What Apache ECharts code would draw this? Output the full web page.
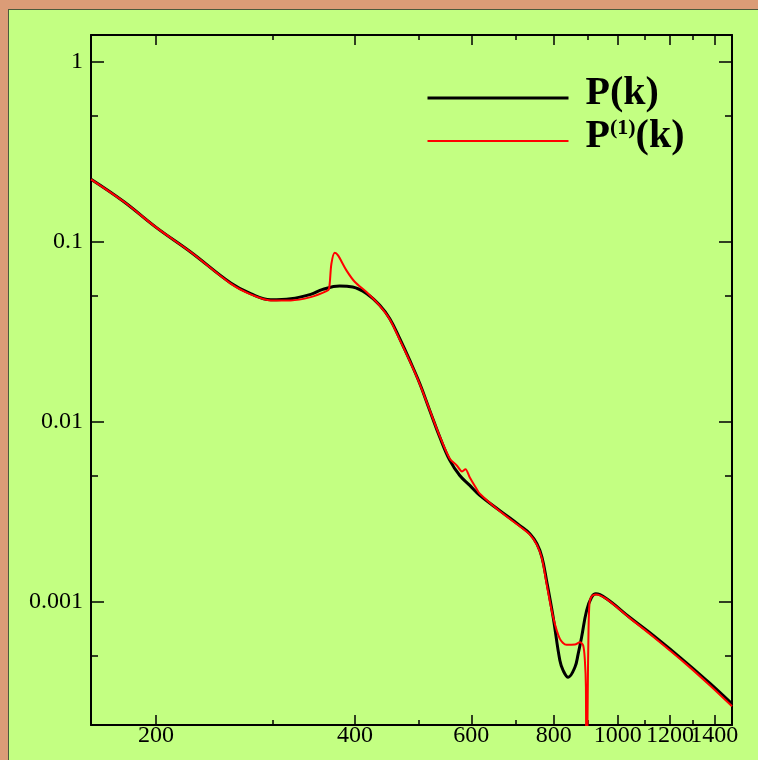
<!DOCTYPE html>
<html>
<head>
<meta charset="utf-8">
<title>P(k)</title>
<script src="https://cdn.jsdelivr.net/npm/echarts@6/dist/echarts.min.js"></script>
<style>
  html, body { margin: 0; padding: 0; }
  body { width: 758px; height: 760px; background: #db9c77; position: relative; overflow: hidden; }
  #panel { position: absolute; left: 8px; top: 9px; right: 0; bottom: 0; background: #c3ff82;
           border-left: 1px solid #4b5a3c; border-top: 1px solid #4b5a3c; }
  #chart { position: absolute; left: 0; top: 0; width: 758px; height: 760px; }
</style>
</head>
<body>
<div id="panel"></div>
<div id="chart"></div>
<script>
// Full spectrum P(k)
const kFull = [159.4, 178.6, 200, 225.6, 259.4, 278.1, 298.2, 319.8, 342.8, 357.5, 379.3, 396.9,
  416.9, 436.2, 451.7, 467.7, 484.3, 501.4, 519.2, 537.7, 556.8, 576.5, 597, 618.2, 662.9,
  710.9, 736.1, 754.3, 767.6, 780.2, 798.3, 817.2, 826.7, 841.2, 861.1, 871, 881.4, 897,
  912.7, 926.5, 961.8, 1043, 1131.6, 1271.5, 1379, 1489];
const pFull = [0.222, 0.167, 0.120, 0.0876, 0.0589, 0.0514, 0.0476, 0.0482, 0.0510, 0.0543, 0.0567, 0.0560,
  0.0514, 0.0443, 0.0373, 0.0289, 0.0219, 0.0163, 0.01156, 0.00821, 0.00610, 0.00503, 0.00443, 0.00390, 0.00321,
  0.00265, 0.00239, 0.00210, 0.00177, 0.00131, 0.000821, 0.000472, 0.000415, 0.000381, 0.000433, 0.000514, 0.000636, 0.000895,
  0.001061, 0.001107, 0.001039, 0.000818, 0.000650, 0.000457, 0.000352, 0.000271];

// First-order approximation P^(1)(k)
const kFirst = [159.4, 178.6, 200, 225.6, 259.4, 278.1, 298.2, 319.8, 342.8, 362.2, 365.5, 368.5,
  372.8, 377.1, 388.3, 400, 416.4, 436.2, 451.7, 467.7, 484.3, 501.4, 519.2, 537.7, 556.8,
  570.5, 581, 588, 597, 611.1, 618.2, 662.9, 710.9, 736.1, 754.3, 767.6, 780.2, 798.3,
  817.2, 836.5, 861.1, 876.2, 886.4, 891.6, 894.8, 896.5, 898.5, 900.5, 903, 906, 911, 918,
  926.5, 961.8, 1043, 1131.6, 1271.5, 1379, 1489];
const pFirst = [0.222, 0.167, 0.120, 0.0876, 0.0585, 0.0510, 0.0472, 0.0472, 0.0492, 0.0531, 0.0548, 0.0754,
  0.0869, 0.0839, 0.0693, 0.0597, 0.0525, 0.0440, 0.0370, 0.0285, 0.0217, 0.0162, 0.01160, 0.00830, 0.00623,
  0.00572, 0.00530, 0.00545, 0.00490, 0.00424, 0.00398, 0.00318, 0.00262, 0.00236, 0.00207, 0.00174, 0.00126, 0.000821,
  0.000623, 0.000577, 0.000579, 0.000597, 0.000572, 0.000472, 0.000335, 0.00005, 0.00005, 0.0003, 0.0007, 0.00098, 0.00106, 0.00109,
  0.001098, 0.001035, 0.000812, 0.000640, 0.000448, 0.000343, 0.000263];

const seriesNames = ['P(k)', 'P(1)(k)'];
const xMajorTicks = [200, 400, 600, 800, 1000, 1200, 1400];
const xMinorTicks = [300, 500, 700, 900, 1100, 1300];
// the tightly packed labels are split over two coincident axes so none gets culled
const xLabelsA = [200, 400, 600, 800, 1000, 1400];
const xLabelsB = [1200];
const yMajorTicks = [0.001, 0.01, 0.1, 1];
const yMinorTicks = [0.0005, 0.005, 0.05, 0.5];

const X_MIN = 159.4, X_MAX = 1489;
const Y_MIN = 0.000207, Y_MAX = 1.405;
const SERIF = "'Liberation Serif', 'Times New Roman', serif";

const pairs = (xs, ys) => xs.map((x, i) => [x, ys[i]]);
const tickLabel = (list) => (v) => {
  const t = list.find(t => Math.abs(t - v) / t < 1e-6);
  return t === undefined ? '' : String(t);
};

function makeAxis(kind, position, ticks, len, showLine, labels) {
  const isX = kind === 'x';
  return {
    type: 'log',
    logBase: 10,
    position: position,
    min: isX ? X_MIN : Y_MIN,
    max: isX ? X_MAX : Y_MAX,
    splitLine: { show: false },
    minorTick: { show: false },
    minorSplitLine: { show: false },
    axisLine: { show: showLine, onZero: false, lineStyle: { color: '#000', width: 2 } },
    axisTick: { show: true, inside: true, length: len, customValues: ticks,
                lineStyle: { color: '#000', width: 1.5 } },
    axisLabel: labels ? {
      show: true,
      customValues: labels,
      interval: 0,
      hideOverlap: false,
      showMinLabel: true,
      showMaxLabel: true,
      margin: isX ? -1 : 8,
      color: '#000',
      fontFamily: SERIF,
      fontSize: 24,
      formatter: tickLabel(labels)
    } : { show: false }
  };
}

const chart = echarts.init(document.getElementById('chart'), null, { renderer: 'canvas' });
chart.setOption({
  animation: false,
  backgroundColor: 'transparent',
  textStyle: { fontFamily: SERIF },
  grid: { left: 91, top: 35, right: 26, bottom: 35, containLabel: false, outerBoundsMode: 'none' },
  legend: {
    orient: 'vertical',
    left: 426,
    top: 74,
    padding: 0,
    itemGap: -5,
    itemWidth: 141,
    itemHeight: 14,
    data: [
      { name: seriesNames[0], lineStyle: { width: 3 } },
      { name: seriesNames[1], lineStyle: { width: 2 } }
    ],
    itemStyle: { opacity: 0 },
    lineStyle: { opacity: 1 },
    formatter: (name) => name === seriesNames[0]
      ? '{pad|}{m|P(k)}'
      : '{pad|}{m|P}{s|(1)}{m|(k)}',
    textStyle: {
      color: '#000',
      rich: {
        pad: { width: 12, lineHeight: 48 },
        m: { fontFamily: SERIF, fontWeight: 'bold', fontSize: 40, color: '#000',
             lineHeight: 40, padding: [0, 0, 8, 0] },
        s: { fontFamily: SERIF, fontWeight: 'bold', fontSize: 22, color: '#000',
             lineHeight: 24, verticalAlign: 'top' }
      }
    }
  },
  xAxis: [
    makeAxis('x', 'bottom', xMajorTicks, 10, true, xLabelsA),
    makeAxis('x', 'bottom', xMinorTicks, 5, false, xLabelsB),
    makeAxis('x', 'top', xMajorTicks, 10, true, null),
    makeAxis('x', 'top', xMinorTicks, 5, false, null)
  ],
  yAxis: [
    makeAxis('y', 'left', yMajorTicks, 13, true, yMajorTicks),
    makeAxis('y', 'left', yMinorTicks, 7, false, null),
    makeAxis('y', 'right', yMajorTicks, 13, true, null),
    makeAxis('y', 'right', yMinorTicks, 7, false, null)
  ],
  series: [
    {
      name: seriesNames[0],
      type: 'line',
      xAxisIndex: 0, yAxisIndex: 0,
      data: pairs(kFull, pFull),
      showSymbol: false, symbol: 'none',
      smooth: 0.4,
      color: '#000',
      lineStyle: { color: '#000', width: 3 },
      clip: true,
      z: 2
    },
    {
      name: seriesNames[1],
      type: 'line',
      xAxisIndex: 0, yAxisIndex: 0,
      data: pairs(kFirst, pFirst),
      showSymbol: false, symbol: 'none',
      smooth: 0.3,
      color: '#ff0000',
      lineStyle: { color: '#ff0000', width: 2 },
      clip: true,
      z: 3
    }
  ]
});
</script>
</body>
</html>
